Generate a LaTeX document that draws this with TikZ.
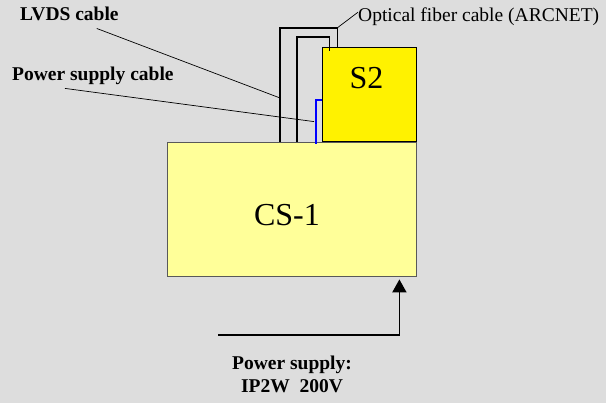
\documentclass[tikz,border=0pt]{standalone}
\usepackage{fontspec}
\setmainfont{Liberation Serif}
\usetikzlibrary{positioning,arrows.meta}
\definecolor{bggray}{HTML}{DDDDDD}
\definecolor{paleyellow}{HTML}{FFFF99}
\definecolor{cableblue}{HTML}{0000FF}

\begin{document}
\begin{tikzpicture}[x=1pt, y=-1pt, >=Stealth, every node/.style={font=\fontsize{19.5}{23}\selectfont, inner sep=0pt}]
  % Styles
  \tikzset{
    unit/.style={draw=black!65, line width=0.8pt, fill=paleyellow, minimum width=249pt, minimum height=134pt},
    subunit/.style={draw=black, line width=0.9pt, fill=yellow, minimum width=94pt, minimum height=94pt},
    bigtext/.style={font=\fontsize{32}{36}\selectfont},
    tag/.style={font=\fontsize{19.5}{23}\bfseries\selectfont},
    cable/.style={line width=1.9pt},
    pwrcable/.style={line width=2.5pt, cableblue},
    leader/.style={line width=0.7pt},
    feed/.style={-{Triangle[width=14pt,length=13pt]}, line width=1.8pt}
  }

  % Background
  \fill[bggray] (0,0) rectangle (606,403);

  % Units
  \node[unit] (cs1) at (291.5,209) {};
  \node[bigtext] (cs1txt) at (287,215.5) {CS-1};
  \node[subunit, anchor=south east] (s2) at (cs1.north east) {};
  \node[bigtext] (s2txt) at (366.5,78) {S2};

  % Cables between CS-1 and S2
  \draw[cable] ([xshift=-11.5pt]cs1.north) |- ([xshift=16pt,yshift=19pt]s2.north west) -- ([xshift=16pt]s2.north west);
  \draw[cable] ([xshift=5.5pt]cs1.north) |- ([xshift=8pt,yshift=10pt]s2.north west) -- ([xshift=8pt,yshift=-4pt]s2.north west);
  \draw[pwrcable] ([xshift=24.5pt,yshift=-2pt]cs1.north) |- ([yshift=-6pt]s2.west);

  % Labels
  \node[tag, anchor=base west] (lvds) at (20,21) {LVDS cable};
  \node[tag, anchor=base west] (pwr) at (12,81) {Power supply cable};
  \node[anchor=base west] (optic) at (358,22) {Optical fiber cable (ARCNET)};
  \node[tag, align=center] (supply) at (292,374) {Power supply:\\IP2W\ \ 200V};

  % Leader lines
  \coordinate (lvdstap) at ([xshift=-12.5pt,yshift=44pt]cs1.north);
  \coordinate (pwrtap) at ([xshift=22.5pt,yshift=20pt]cs1.north);
  \draw[leader] ([xshift=-22pt,yshift=-7pt]lvds.south east) -- (lvdstap);
  \draw[leader] ([xshift=53pt,yshift=-3pt]pwr.south west) -- (pwrtap);
  \draw[leader] ([xshift=16pt,yshift=19pt]s2.north west) -- ([yshift=5pt]optic.west);

  % Power supply feed
  \coordinate (pssrc) at (218,335);
  \draw[feed] (pssrc) -| ([xshift=-17pt,yshift=-3pt]cs1.south east);
\end{tikzpicture}
\end{document}
